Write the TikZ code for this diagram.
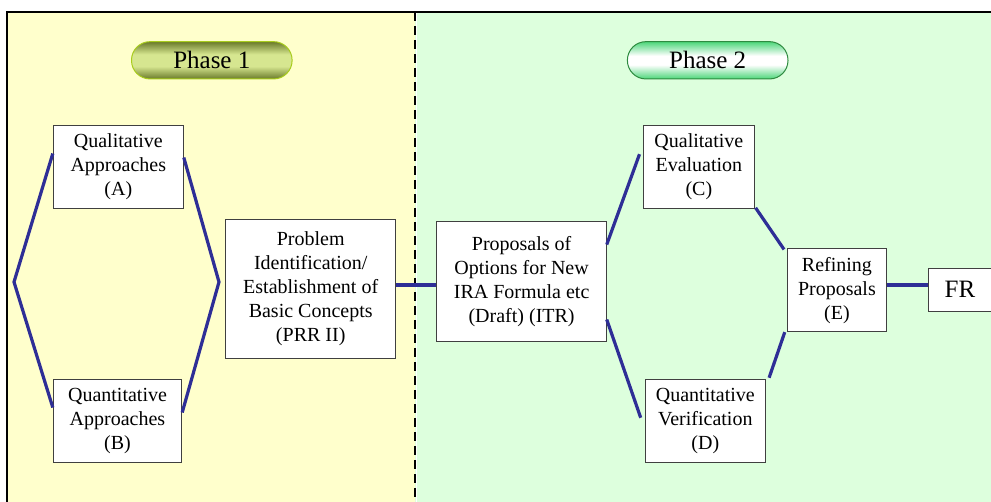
\documentclass[tikz,border=0pt]{standalone}
\usepackage{fontspec}
\newfontfamily\stagefont{LiberationSerif}[Extension=.ttf, UprightFont=*-Regular]
\definecolor{phaseonebg}{HTML}{FFFFCC}
\definecolor{phasetwobg}{HTML}{DDFFDD}
\definecolor{linkblue}{HTML}{2E2E96}
\definecolor{boxgray}{HTML}{404040}
\definecolor{olivedark}{HTML}{6A7A2A}
\definecolor{olivelight}{HTML}{D6E690}
\definecolor{oliverim}{HTML}{A8CC1C}
\definecolor{mintedge}{HTML}{4CD679}
\definecolor{mintrim}{HTML}{2E8B40}
% vertical fades for the two phase labels (dark rim, light middle)
\pgfdeclareverticalshading{olivepill}{100bp}{color(0bp)=(olivedark); color(25bp)=(olivedark); color(42bp)=(olivelight); color(58bp)=(olivelight); color(75bp)=(olivedark); color(100bp)=(olivedark)}
\pgfdeclareverticalshading{mintpill}{100bp}{color(0bp)=(mintedge); color(25bp)=(mintedge); color(44bp)=(white); color(56bp)=(white); color(75bp)=(mintedge); color(100bp)=(mintedge)}
\begin{document}
\begin{tikzpicture}[x=1pt,y=-1pt,
  stagebox/.style={draw=boxgray, line width=1pt, fill=white, inner sep=0pt,
    align=center, font=\stagefont\fontsize{20}{24}\selectfont},
  link/.style={draw=linkblue, line width=3.2pt},
  pill/.style={rounded corners=18.5pt, minimum width=160.6pt, minimum height=37.3pt,
    inner sep=0pt, line width=1pt, font=\stagefont\fontsize{25}{28}\selectfont}]
\clip (0,0) rectangle (991,501);

% phase backgrounds, frame and divider
\fill[phaseonebg] (7,12) rectangle (415,520);
\fill[phasetwobg] (415,12) rectangle (1000,520);
\draw[line width=2pt] (7,12) rectangle (1100,600);
\draw[line width=2pt, dash pattern=on 9pt off 5pt] (414.6,12) -- (414.6,520);
\draw[white, line width=1pt] (416.9,13) -- (416.9,520);

% phase labels
\node[pill, draw=oliverim, shading=olivepill] (phaseone) at (211.8,60.3) {Phase 1};
\node[pill, draw=mintrim, shading=mintpill] (phasetwo) at (707.7,60.3) {Phase 2};

% stages
\node[stagebox, minimum width=130pt, minimum height=83.3pt] (A) at (118.3,166.7)
  {Qualitative\\Approaches\\(A)};
\node[stagebox, minimum width=128.4pt, minimum height=83pt] (B) at (117.5,420.8)
  {Quantitative\\Approaches\\(B)};
\node[stagebox, minimum width=170pt, minimum height=138.7pt] (PRR) at (310.7,288.7)
  {Problem\\Identification/\\Establishment of\\Basic Concepts\\(PRR II)};
\node[stagebox, minimum width=169.3pt, minimum height=120.7pt] (ITR) at (521.6,281.4)
  {Proposals of\\Options for New\\IRA Formula etc\\(Draft) (ITR)};
\node[stagebox, minimum width=110.8pt, minimum height=82.6pt] (C) at (698.9,167)
  {Qualitative\\Evaluation\\(C)};
\node[stagebox, minimum width=120.6pt, minimum height=82.7pt] (D) at (705.3,421.3)
  {Quantitative\\Verification\\(D)};
\node[stagebox, minimum width=99.5pt, minimum height=82.7pt] (E) at (836.9,290.3)
  {Refining\\Proposals\\(E)};
\node[stagebox, minimum width=64pt, minimum height=42.7pt,
  font=\stagefont\fontsize{25}{28}\selectfont] (FR) at (960,289.7) {FR};

% connectors
\coordinate (hexleft) at (14,282);
\coordinate (hexright) at (219,282);
\coordinate (midone) at (415,285);
\coordinate (midtwo) at (905,285);
\draw[link] ([yshift=-29pt]A.north west) -- (hexleft) -- ([yshift=-28.7pt]B.north west);
\draw[link] ([yshift=-33pt]A.north east) -- (hexright) -- ([yshift=-33.7pt]B.north east);
\draw[link] (midone -| PRR.east) -- (midone -| ITR.west);
\draw[link] ([yshift=-24pt]ITR.north east) -- ([xshift=-3.5pt,yshift=-29pt]C.north west);
\draw[link] ([yshift=22.7pt]ITR.south east) -- ([xshift=-3.8pt,yshift=-38.3pt]D.north west);
\draw[link] ([xshift=0.8pt,yshift=1pt]C.south east) -- ([xshift=-2.6pt,yshift=-1pt]E.north west);
\draw[link] ([xshift=3pt,yshift=1.7pt]D.north east) -- ([xshift=-1.9pt]E.south west);
\draw[link] (midtwo -| E.east) -- (midtwo -| FR.west);
\end{tikzpicture}
\end{document}
